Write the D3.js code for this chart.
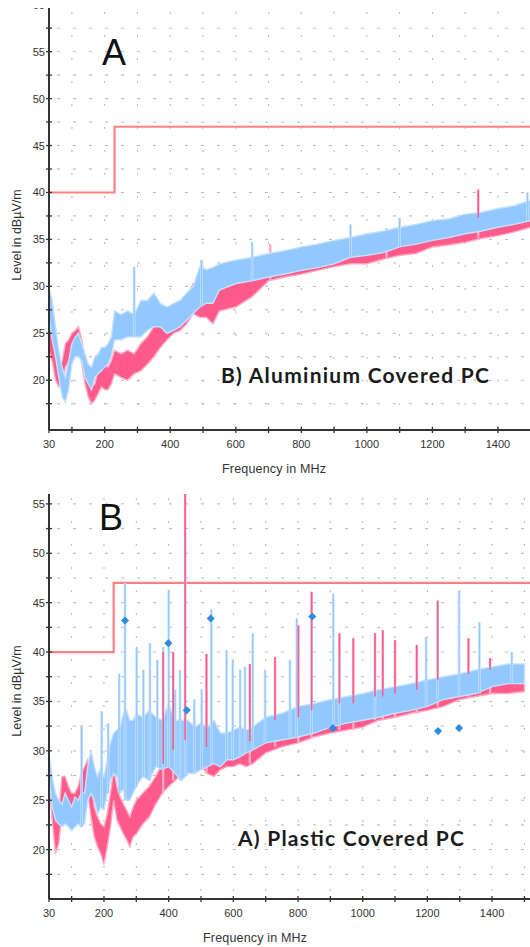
<!DOCTYPE html>
<html>
<head>
<meta charset="utf-8">
<script src="https://cdn.jsdelivr.net/npm/d3@7"></script>
<style>
  body { margin: 0; background: #fff; }
  svg { display: block; font-family: "Liberation Sans", Arial, sans-serif; }
</style>
</head>
<body>
<svg></svg>
<script>
// ---- top panel: aluminium covered PC (envelope lo/hi) ----
const alFreq = [30, 40, 50, 60, 70, 80, 90, 100, 110, 120, 130, 140, 150, 160, 170, 180, 190, 200, 210, 220,
  230, 250, 270, 290, 310, 330, 350, 370, 390, 410, 430, 450, 470, 490, 510, 530,
  550, 600, 650, 700, 750, 800, 850, 900, 950, 1000, 1050, 1100, 1150, 1200, 1250, 1300, 1350, 1400, 1450, 1500];
const alBlueLo = [26.7, 24.3, 22.5, 20.3, 18.2, 17.7, 19, 21.7, 22.5, 22.5, 22, 20.3, 19.6, 19, 20.3, 20.7, 21, 21.4, 21.7, 22.5,
  24.3, 24.3, 24.6, 24.6, 24.6, 25.3, 25.7, 25.7, 25, 25.3, 25.7, 26.4, 27.1, 27.8, 28.2, 28.2,
  29.6, 30.3, 30.6, 31, 31.3, 31.7, 32, 32.4, 33.1, 33.3, 33.6, 34.2, 34.5, 34.9, 35.2, 35.6, 35.9, 36.3, 36.6, 37];
const alBlueHi = [29.8, 28.5, 25.7, 23.2, 21.4, 20.3, 22, 23.9, 24.6, 25, 23.9, 22.8, 21.7, 21.4, 22.5, 22.8, 23.5, 23.5, 23.9, 24.6,
  27.4, 27, 27.4, 27, 28.5, 28.5, 29.3, 28.2, 27.8, 28.2, 28.5, 29.3, 30, 32.1, 31.8, 32,
  32.4, 32.8, 33.1, 33.5, 33.8, 34.2, 34.5, 34.9, 35.2, 35.6, 35.9, 36.3, 36.6, 37, 37.2, 37.7, 37.9, 38.3, 38.6, 39.2];
const alPinkLo = [23.2, 22, 20, 19.3, 19.6, 21.4, 22, 22.5, 23.2, 23.2, 21.7, 19.6, 18.2, 17.5, 17.9, 18.6, 19.3, 19, 19, 19.6,
  20.7, 20.3, 20, 20.7, 21, 21.7, 22.5, 23.5, 24.3, 25, 25.3, 26, 27.1, 26.7, 26.7, 26,
  27.4, 27.8, 28.9, 30.6, 31, 31.3, 31.7, 32.1, 32.4, 32.4, 32.9, 33.3, 33.5, 34.2, 34.4, 34.7, 35.1, 35.4, 35.8, 36.3];
const alPinkHi = [26.5, 25.3, 23.5, 22, 22, 23.9, 24.3, 25, 25.3, 25.7, 24.3, 22.5, 20.3, 19.3, 19.6, 21, 22, 21.7, 21.4, 22,
  23.2, 22.8, 23.2, 22.8, 23.9, 24.6, 25.7, 26.7, 27.4, 27.8, 28.2, 28.9, 30.3, 30, 30.3, 29.3,
  30.6, 31, 32.1, 33.1, 33.5, 33.5, 34.2, 34.2, 34.5, 34.9, 35.2, 35.9, 35.9, 36.6, 37, 37.3, 37.3, 37.7, 38, 38];
const alBlueSpikes = [[290, 32.1], [495, 32.8], [650, 34.7], [950, 36.6], [1100, 37.3], [1490, 40]];
const alPinkSpikes = [[705, 34.5], [1060, 36.2], [1340, 40.3]];

// ---- bottom panel: plastic covered PC ----
const plFreq = [30, 40, 50, 60, 70, 80, 90, 100, 110, 120, 130, 140, 150, 160, 170, 180, 190, 200, 210, 220, 230, 240, 250, 260, 270, 280, 290, 300,
  320, 340, 360, 380, 400, 420, 440, 460, 480, 500, 520, 540, 560, 580, 600, 620, 640, 660,
  700, 750, 800, 850, 900, 950, 1000, 1050, 1100, 1150, 1200, 1250, 1300, 1350, 1400, 1450, 1500];
const plBlueLo = [27.4, 24.3, 23, 22.6, 22.3, 22.6, 22.3, 21.9, 22.3, 22.6, 22.3, 22.6, 25, 25.7, 25, 23.6, 24.3, 24, 25.7, 27, 27.7, 27.4, 25.7, 26.1, 25, 25, 25.7, 26.4,
  27.4, 27, 28.4, 28.1, 28.4, 27.7, 27, 27.7, 27.7, 28.1, 28.4, 28.7, 28.4, 29.1, 29.1, 29.4, 29.8, 30.1,
  30.8, 31.1, 31.4, 31.8, 32.4, 32.8, 33.1, 33.4, 33.8, 34.1, 34.5, 35.2, 35.5, 35.8, 36.5, 36.8, 36.8];
const plBlueHi = [29.8, 27.4, 25.7, 25, 24.6, 25.7, 25, 24.3, 25.3, 25, 25.7, 25.7, 28.4, 30.1, 28.4, 27.4, 28.4, 27.4, 29.1, 30.8, 31.8, 32.1, 32.4, 33.8, 34.1, 33.1, 33.1, 33.8,
  33.4, 34.1, 33.4, 33.1, 34.8, 33.1, 33.1, 33.1, 32.4, 32.8, 32.4, 33.1, 31.8, 31.8, 32.1, 32.4, 32.1, 32.4,
  33.4, 33.8, 34.5, 34.8, 35.2, 35.5, 35.8, 36.2, 36.5, 36.8, 37.2, 37.5, 37.8, 38.2, 38.5, 38.8, 38.8];
const plPinkLo = [27.1, 23, 19.6, 20.6, 23.6, 25, 22.6, 22.3, 22.6, 23.6, 25, 25.7, 25.7, 23.3, 21.3, 20.3, 19.6, 18.5, 20.3, 22.3, 25, 23, 22.3, 21.6, 21, 20.3, 21.3, 21.6,
  22.6, 23.3, 24.6, 25.7, 26.4, 27, 27.7, 28.1, 28.4, 28.4, 27.7, 27.4, 28.1, 28.4, 28.4, 28.7, 28.4, 28.7,
  29.8, 30.4, 30.8, 31.4, 31.8, 32.1, 32.4, 33.1, 33.4, 33.8, 34.1, 34.5, 35.2, 35.5, 35.8, 35.8, 36];
const plPinkHi = [29.4, 27.1, 23, 23.6, 27.4, 27.4, 26.4, 25.7, 25.7, 26.4, 27.7, 28.4, 29.1, 26.4, 24.3, 23.3, 22.6, 22.3, 23.6, 25.7, 28.1, 26.4, 25.3, 24.6, 24, 23.3, 24.3, 25,
  25.7, 26.4, 27.4, 28.7, 29.4, 30.1, 30.4, 31.1, 31.1, 31.8, 30.4, 30.4, 30.4, 30.8, 30.4, 30.8, 30.4, 31,
  32.4, 33.1, 33.4, 34.1, 34.5, 34.8, 35.2, 35.5, 35.8, 36.2, 36.5, 37.2, 37.5, 37.8, 38.2, 38.2, 38.2];
const plBlueSpikes = [[131, 32.4], [193, 34], [213, 32.8], [247, 37.8], [265, 47], [301, 40.5], [322, 38.2], [342, 40.9], [365, 39.2],
  [383, 40.5], [400, 46.3], [420, 36.2], [435, 38.2], [451, 51.8], [479, 35.2], [502, 36.2], [532, 44.3], [579, 40.2], [598, 39.2],
  [621, 38.2], [636, 38.5], [660, 41.9], [698, 38.2], [775, 39.2], [796, 43.4], [842, 43.6], [909, 45.9], [928, 40], [1038, 38],
  [1196, 41.5], [1232, 45.2], [1298, 46.2], [1361, 43], [1461, 40]];
const plPinkSpikes = [[131, 32.6], [383, 40], [414, 40], [430, 33], [451, 56], [480, 33.4], [517, 39.8], [651, 38.8], [729, 39.5],
  [801, 42.7], [842, 46.1], [928, 41.9], [971, 41.4], [1038, 41.9], [1062, 42.2], [1100, 41.2], [1167, 40.7], [1232, 45.2],
  [1327, 41.4], [1394, 39.4]];
const plMarkFreq = [265, 399, 456, 530, 844, 908, 1233, 1298];
const plMarkLevel = [43.2, 40.9, 34.1, 43.4, 43.6, 32.3, 32.0, 32.3];

// limit line (both panels)
const limitFreq = [30, 230, 230, 1520];
const limitLevel = [40, 40, 47, 47];

// axis ticks
const xTicks = [30, 100, 200, 300, 400, 500, 600, 700, 800, 900, 1000, 1100, 1200, 1300, 1400, 1500];
const xLabels = [30, 200, 400, 600, 800, 1000, 1200, 1400];

const width = 530, height = 947;
const svg = d3.select("svg").attr("width", width).attr("height", height);

const BLUE = "#93c8ff", BLUE_L = "#c6e1fd", PINK = "#ff5a8c", PINK_L = "#ffa8c1";

function panel(o) {
  const x = d3.scaleLinear().domain([30, 1500]).range([49, o.xEnd]);
  const y = d3.scaleLinear().domain(o.yDomain).range([o.bottom, o.top]);
  const g = svg.append("g");

  svg.append("clipPath").attr("id", o.id)
    .append("rect")
    .attr("x", 49).attr("y", o.top)
    .attr("width", width - 49).attr("height", o.bottom - o.top);
  svg.append("clipPath").attr("id", o.id + "L")
    .append("rect")
    .attr("x", 0).attr("y", o.top)
    .attr("width", 49).attr("height", o.bottom - o.top + 10);

  // dotted grid
  const grid = g.append("g").attr("stroke", "#b5b5b5").attr("stroke-width", 1).attr("clip-path", `url(#${o.id})`);
  grid.selectAll(".gh").data(d3.range(17.5, o.yDomain[1], 2.5)).join("line")
    .attr("x1", 49).attr("x2", width)
    .attr("y1", d => y(d)).attr("y2", d => y(d))
    .attr("stroke-dasharray", "3,13").attr("stroke-dashoffset", -8);
  grid.selectAll(".gv").data(xTicks.slice(1)).join("line")
    .attr("x1", d => x(d)).attr("x2", d => x(d))
    .attr("y1", o.top).attr("y2", o.bottom)
    .attr("stroke-dasharray", "2,21").attr("stroke-dashoffset", -4);

  const data = g.append("g").attr("clip-path", `url(#${o.id})`);

  // limit line
  data.append("path")
    .datum(d3.range(limitFreq.length))
    .attr("fill", "none").attr("stroke", "#ff8080").attr("stroke-width", 2.2)
    .attr("d", d3.line().x(i => x(limitFreq[i])).y(i => y(limitLevel[i])));

  const band = (lo, hi) => d3.area()
    .x(i => x(o.freq[i])).y0(i => y(lo[i])).y1(i => y(hi[i]));
  const idx = d3.range(o.freq.length);
  const bis = d3.bisector(d => d).center;

  function spikes(list, lo, color, w) {
    data.append("g").selectAll("line").data(list).join("line")
      .attr("x1", d => x(d[0])).attr("x2", d => x(d[0]))
      .attr("y1", d => y(d[1]))
      .attr("y2", d => y(lo[bis(o.freq, d[0])]))
      .attr("stroke", color).attr("stroke-width", w);
  }

  data.append("path").attr("d", band(o.pinkLo, o.pinkHi)(idx))
    .attr("fill", PINK).attr("stroke", PINK_L).attr("stroke-width", 1.4);
  spikes(o.pinkSpikes, o.pinkLo, PINK_L, 2.4);
  data.append("path").attr("d", band(o.blueLo, o.blueHi)(idx))
    .attr("fill", BLUE).attr("stroke", BLUE_L).attr("stroke-width", 1.4);
  spikes(o.blueSpikes, o.blueLo, BLUE_L, 2.6);
  spikes(o.blueSpikes, o.blueLo, BLUE, 1.2);
  spikes(o.pinkSpikes.filter(d => d[1] > 38), o.pinkHi, PINK, 1.6);

  if (o.markFreq) {
    data.append("g").selectAll("path").data(o.markFreq).join("path")
      .attr("transform", (d, i) => `translate(${x(d)},${y(o.markLevel[i])})`)
      .attr("d", d3.symbol(d3.symbolDiamond2, 42))
      .attr("fill", "#2f8be0");
  }

  // axes
  const ax = g.append("g").attr("stroke", "#333").attr("fill", "none");
  ax.append("line").attr("x1", 49).attr("x2", 49).attr("y1", o.top).attr("y2", o.bottom).attr("stroke-width", 2);
  ax.append("line").attr("x1", 49).attr("x2", width).attr("y1", o.bottom).attr("y2", o.bottom).attr("stroke-width", 2);
  ax.selectAll(".yt").data(d3.range(17.5, o.yDomain[1], 2.5)).join("line")
    .attr("x1", 46).attr("x2", 52).attr("y1", d => y(d)).attr("y2", d => y(d)).attr("stroke-width", 1.3);
  ax.selectAll(".xt").data(xTicks).join("line")
    .attr("x1", d => x(d)).attr("x2", d => x(d)).attr("y1", o.bottom - 3).attr("y2", o.bottom + 3).attr("stroke-width", 1.3);

  const lab = g.append("g").attr("fill", "#333").attr("font-size", 11);
  lab.append("g").attr("clip-path", `url(#${o.id}L)`)
    .selectAll("text").data(d3.range(20, o.yDomain[1] + 2, 5)).join("text")
    .attr("x", 45).attr("y", d => y(d) + 4).attr("text-anchor", "end").text(d => d);
  lab.selectAll(".xl").data(xLabels).join("text")
    .attr("x", d => x(d)).attr("y", o.bottom + 18).attr("text-anchor", "middle").text(d => d);

  g.append("text").attr("x", o.xTitleX).attr("y", o.bottom + 43)
    .attr("font-size", 12.5).attr("fill", "#333").attr("textLength", 104)
    .text("Frequency in MHz");
  g.append("text").attr("transform", `translate(21,${o.yTitleY}) rotate(-90)`)
    .attr("text-anchor", "middle").attr("font-size", 12.5).attr("fill", "#333")
    .text("Level in dBµV/m");

  g.append("text").attr("x", o.letterX).attr("y", o.letterY)
    .attr("font-size", 36).attr("fill", "#111").text(o.letter);
  g.append("text").attr("x", o.capX).attr("y", o.capY)
    .attr("font-family", "Lato, 'Open Sans', sans-serif").attr("font-weight", "bold")
    .attr("font-size", 21).attr("fill", "#1c1c1c").attr("textLength", o.capLen)
    .text(o.caption);
}

panel({
  id: "clipA", top: 8, bottom: 430, xEnd: 530.7, yDomain: [14.7, 59.65],
  freq: alFreq, blueLo: alBlueLo, blueHi: alBlueHi, pinkLo: alPinkLo, pinkHi: alPinkHi,
  blueSpikes: alBlueSpikes, pinkSpikes: alPinkSpikes,
  xTitleX: 222, yTitleY: 235,
  letter: "A", letterX: 102, letterY: 65,
  caption: "B) Aluminium Covered PC", capX: 221, capY: 383, capLen: 268
});

panel({
  id: "clipB", top: 494, bottom: 899, xEnd: 524.4, yDomain: [15, 56],
  freq: plFreq, blueLo: plBlueLo, blueHi: plBlueHi, pinkLo: plPinkLo, pinkHi: plPinkHi,
  blueSpikes: plBlueSpikes, pinkSpikes: plPinkSpikes,
  markFreq: plMarkFreq, markLevel: plMarkLevel,
  xTitleX: 203, yTitleY: 691,
  letter: "B", letterX: 99, letterY: 530,
  caption: "A) Plastic Covered PC", capX: 238, capY: 846, capLen: 226
});
</script>
</body>
</html>
